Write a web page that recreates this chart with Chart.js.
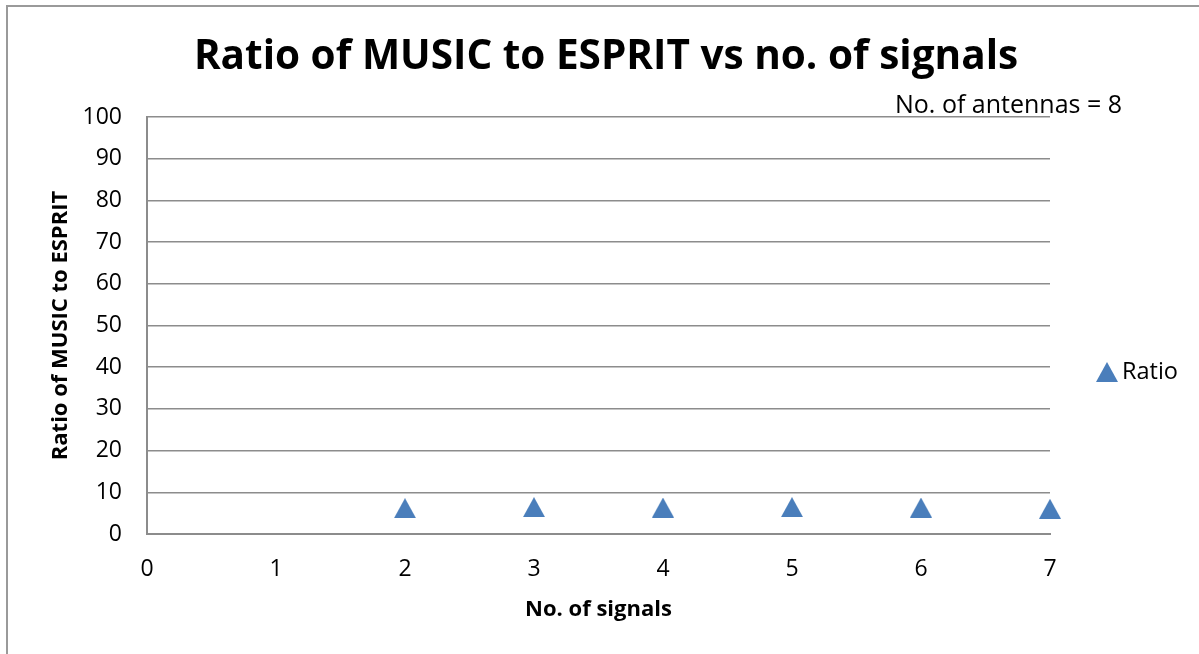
<!DOCTYPE html>
<html>
<head>
<meta charset="utf-8">
<script src="https://cdn.jsdelivr.net/npm/chart.js@4"></script>
<style>
  html, body { margin: 0; padding: 0; background: #fff; overflow: hidden; }
  #frame {
    position: absolute; left: 6px; top: 5px; width: 1300px; height: 800px;
    border: 2px solid #9a9a9a; box-sizing: border-box;
  }
  #wrap { position: absolute; left: 0; top: 0; width: 1199px; height: 654px; }
</style>
</head>
<body>
<div id="frame"></div>
<div id="wrap"><canvas id="chart" width="1199" height="654"></canvas></div>
<script>
const signals = [2, 3, 4, 5, 6, 7];
const ratio = [6.2, 6.45, 6.35, 6.45, 6.35, 6.05];
const yTicks = [0, 10, 20, 30, 40, 50, 60, 70, 80, 90, 100];
const xTicks = [0, 1, 2, 3, 4, 5, 6, 7];

const FONT = "'Open Sans', 'Noto Sans', sans-serif";
const BLUE = "#4a7ebb";
const GRID = "#8c8c8c";

// triangle marker, centred in its own box like Excel draws it
function makeTriangle(w, h) {
  const c = document.createElement("canvas");
  c.width = w;
  c.height = h;
  const g = c.getContext("2d");
  g.fillStyle = BLUE;
  g.beginPath();
  g.moveTo(w / 2, 0);
  g.lineTo(w, h);
  g.lineTo(0, h);
  g.closePath();
  g.fill();
  return c;
}
const tri = makeTriangle(22, 20);

const textPlugin = {
  id: "texts",
  afterDraw(chart) {
    const ctx = chart.ctx;
    ctx.save();
    ctx.fillStyle = "#000";
    ctx.textBaseline = "middle";

    ctx.font = "bold 40.5px " + FONT;
    ctx.textAlign = "center";
    ctx.fillText("Ratio of MUSIC to ESPRIT vs no. of signals", 606, 57);

    ctx.font = "25px " + FONT;
    ctx.textAlign = "left";
    ctx.fillText("No. of antennas = 8", 895, 106);

    // legend
    ctx.drawImage(tri, 1096, 362);
    ctx.font = "23.5px " + FONT;
    ctx.fillText("Ratio", 1122, 372);
    ctx.restore();
  }
};

new Chart(document.getElementById("chart"), {
  type: "scatter",
  data: {
    datasets: [{
      label: "Ratio",
      data: signals.map((s, i) => ({ x: s, y: ratio[i] })),
      pointStyle: tri,
      pointRadius: 11,
      pointHoverRadius: 11,
      backgroundColor: BLUE,
      borderColor: BLUE,
      clip: false
    }]
  },
  options: {
    responsive: false,
    animation: false,
    events: [],
    layout: { padding: { left: 48, top: 117, right: 149, bottom: 0 } },
    plugins: {
      legend: { display: false },
      title: { display: false },
      tooltip: { enabled: false }
    },
    scales: {
      x: {
        type: "linear",
        min: 0,
        max: 7,
        afterFit: (s) => { s.height = 120; },
        afterBuildTicks: (s) => { s.ticks = xTicks.map(v => ({ value: v })); },
        grid: { display: false, drawTicks: false },
        border: { display: true, color: GRID, width: 2 },
        ticks: { color: "#000", font: { family: FONT, size: 23 }, padding: 22 },
        title: {
          display: true,
          text: "No. of signals",
          color: "#000",
          font: { family: FONT, size: 22, weight: "bold" },
          padding: { top: 0, bottom: 31 }
        }
      },
      y: {
        min: 0,
        max: 100,
        afterFit: (s) => { s.width = 99; },
        afterBuildTicks: (s) => { s.ticks = yTicks.map(v => ({ value: v })); },
        grid: { color: GRID, lineWidth: 1.5, drawTicks: false },
        border: { display: true, color: GRID, width: 2 },
        ticks: { color: "#000", font: { family: FONT, size: 23 }, padding: 25 },
        title: {
          display: true,
          text: "Ratio of MUSIC to ESPRIT",
          color: "#000",
          font: { family: FONT, size: 22, weight: "bold" },
          padding: { top: 0, bottom: 0 }
        }
      }
    }
  },
  plugins: [textPlugin]
});
</script>
</body>
</html>
